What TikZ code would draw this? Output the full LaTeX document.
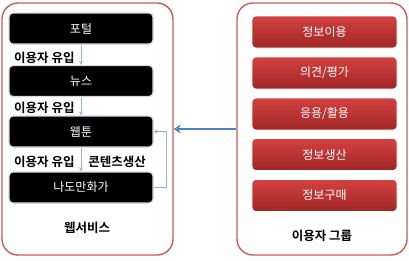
\documentclass[tikz,border=0pt]{standalone}
\usepackage{fontspec}
\setmainfont{Noto Sans CJK KR}[BoldFont={Noto Sans CJK KR Bold}]
\usetikzlibrary{arrows.meta,calc}
\definecolor{contred}{RGB}{200,90,88}
\definecolor{boxtop}{RGB}{210,66,64}
\definecolor{boxbot}{RGB}{160,38,38}
\definecolor{arrblue}{RGB}{79,129,189}
\definecolor{lightblue}{RGB}{149,179,215}
\begin{document}
\begin{tikzpicture}[x=1pt,y=-1pt,
  container/.style={draw=contred,line width=1.4pt,rounded corners=16pt},
  blackbox/.style={fill=black,draw=black!15,line width=1.2pt,rounded corners=4pt,
    minimum width=144pt,minimum height=31pt,text=white,font=\fontsize{12}{14}\selectfont,inner sep=0pt},
  redbox/.style={top color=boxtop,bottom color=boxbot,draw=white,line width=0.6pt,rounded corners=4pt,
    minimum width=145pt,minimum height=32pt,text=white,font=\fontsize{12}{14}\selectfont,inner sep=0pt},
  lbl/.style={font=\bfseries\fontsize{12.5}{14}\selectfont,inner sep=0pt},
  thinarrow/.style={draw=lightblue,line width=0.7pt,-{Stealth[length=4pt,width=4pt,open]}},
]
\useasboundingbox (0,0) rectangle (409,260);
% containers
\node[container,minimum width=171pt,minimum height=252pt,inner sep=0pt] (leftc) at (87.5,129) {};
\node[container,minimum width=170pt,minimum height=252pt,inner sep=0pt] (rightc) at (322,129) {};
% left boxes
\node[blackbox] (portal) at (81,28.5) {포털};
\node[blackbox] (news) at (81,81) {뉴스};
\node[blackbox] (webtoon) at (81,131.5) {웹툰};
\node[blackbox] (nado) at (81,187.5) {나도만화가};
% labels
\node[lbl,anchor=west] (l1) at (14,58) {이용자 유입};
\node[lbl,anchor=west] (l2) at (14,108) {이용자 유입};
\node[lbl,anchor=west] (l3) at (14,162) {이용자 유입};
\node[lbl] (l4) at (117,162) {콘텐츠생산};
\node[lbl] (ws) at (87,228) {웹서비스};
% arrows
\draw[thinarrow] (portal.south) -- (news.north);
\draw[thinarrow] (news.south) -- (webtoon.north);
\draw[thinarrow] (webtoon.south) -- (nado.north);
\draw[thinarrow] (nado.east) -- ++(13,0) |- (webtoon.east);
% right boxes
\node[redbox] (r1) at (324.5,32) {정보이용};
\node[redbox] (r2) at (324.5,73) {의견/평가};
\node[redbox] (r3) at (324.5,114) {응용/활용};
\node[redbox] (r4) at (324.5,154.5) {정보생산};
\node[redbox] (r5) at (324.5,195.5) {정보구매};
\node[lbl] (ug) at (322,236) {이용자 그룹};
% main arrow
\draw[draw=arrblue,line width=1.6pt,-{Stealth[length=7pt,width=9pt,open]}] (rightc.west) -- (leftc.east);
\end{tikzpicture}
\end{document}
